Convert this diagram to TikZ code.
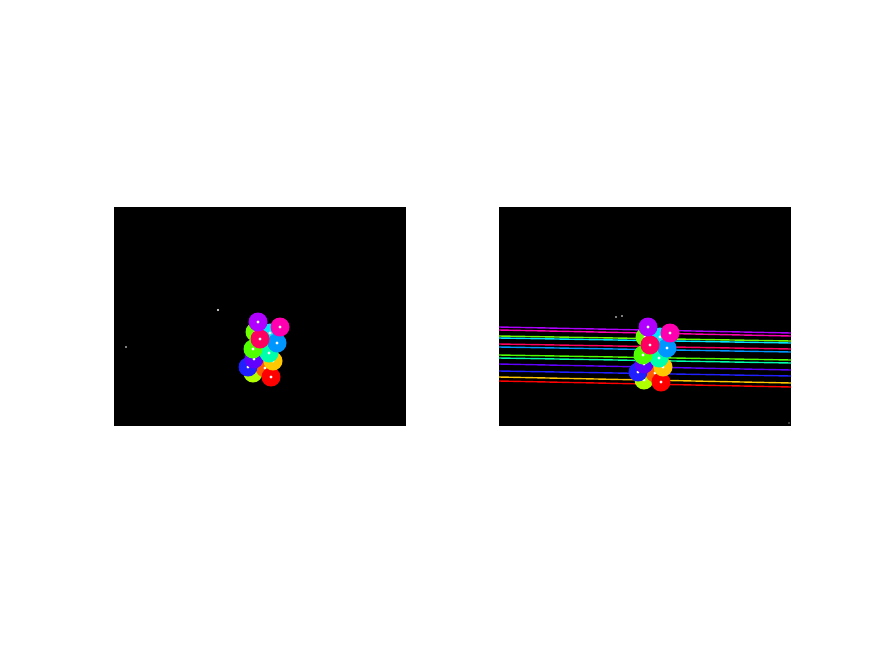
\documentclass[tikz,border=0pt]{standalone}
\usepackage{tikz}

\definecolor{cpurple}{RGB}{176,0,255}
\definecolor{cmagenta}{RGB}{255,0,176}
\definecolor{ccrimson}{RGB}{255,0,96}
\definecolor{csky}{RGB}{0,150,255}
\definecolor{ccyan}{RGB}{0,230,255}
\definecolor{clime}{RGB}{110,255,0}
\definecolor{cgreen}{RGB}{80,255,0}
\definecolor{cteal}{RGB}{0,255,170}
\definecolor{cyellow}{RGB}{255,200,0}
\definecolor{cviolet}{RGB}{96,0,255}
\definecolor{cblue}{RGB}{32,32,255}
\definecolor{cyelgreen}{RGB}{176,255,0}
\definecolor{corange}{RGB}{255,96,0}
\definecolor{cred}{RGB}{255,0,0}

\begin{document}
\begin{tikzpicture}[x=0.02cm,y=-0.02cm]
\useasboundingbox[fill=white] (0,0) rectangle (875,656);

% left image
\fill[black] (114,207) rectangle (406,426);
\fill[white] (218,310) circle (1.1);
\fill[white] (126,347) circle (0.8);

\fill[cyelgreen] (253,373) circle (9.5); \fill[white] (253,373) circle (1.6);
\fill[corange] (265,368) circle (9.5); \fill[white] (265,368) circle (1.6);
\fill[cred] (271,377) circle (9.5); \fill[white] (271,377) circle (1.6);
\fill[cblue] (248,367) circle (9.5); \fill[white] (248,367) circle (1.6);
\fill[cyellow] (273,361) circle (9.5); \fill[white] (273,361) circle (1.6);
\fill[cviolet] (254,359) circle (9.5); \fill[white] (254,359) circle (1.6);
\fill[cteal] (269,353) circle (9.5); \fill[white] (269,353) circle (1.6);
\fill[cgreen] (253,349) circle (9.5); \fill[white] (253,349) circle (1.6);
\fill[clime] (255,332) circle (9.5); \fill[white] (255,332) circle (1.6);
\fill[ccyan] (270,333) circle (9.5); \fill[white] (270,333) circle (1.6);
\fill[csky] (277,343) circle (9.5); \fill[white] (277,343) circle (1.6);
\fill[ccrimson] (260,339) circle (9.5); \fill[white] (260,339) circle (1.6);
\fill[cmagenta] (280,327) circle (9.5); \fill[white] (280,327) circle (1.6);
\fill[cpurple] (258,322) circle (9.5); \fill[white] (258,322) circle (1.6);

% right image with lines
\fill[black] (499,207) rectangle (791,426);
\fill[white] (616,317) circle (0.8);
\fill[white] (622,316) circle (0.8);
\fill[gray] (789,423) circle (0.9);

\draw[cpurple,line width=0.8pt] (499,327) -- (791,333);
\draw[cmagenta,line width=0.8pt] (499,330) -- (791,336);
\draw[clime,line width=0.8pt] (499,336) -- (791,341);
\draw[ccyan,line width=0.8pt] (499,338) -- (791,343);
\draw[ccrimson,line width=0.8pt] (499,344) -- (791,349);
\draw[csky,line width=0.8pt] (499,347) -- (791,352);
\draw[cgreen,line width=0.8pt] (499,355) -- (791,360);
\draw[cteal,line width=0.8pt] (499,358) -- (791,363);
\draw[cviolet,line width=0.8pt] (499,364) -- (791,370);
\draw[cblue,line width=0.8pt] (499,371) -- (791,376);
\draw[cyellow,line width=0.8pt] (499,377) -- (791,383);
\draw[cred,line width=0.8pt] (499,381) -- (791,387);

\fill[cyelgreen] (644,380) circle (9.5); \fill[white] (644,380) circle (1.6);
\fill[corange] (655,373) circle (9.5); \fill[white] (655,373) circle (1.6);
\fill[cred] (661,382) circle (9.5); \fill[white] (661,382) circle (1.6);
\fill[cblue] (638,372) circle (9.5); \fill[white] (638,372) circle (1.6);
\fill[cyellow] (663,367) circle (9.5); \fill[white] (663,367) circle (1.6);
\fill[cviolet] (644,364) circle (9.5); \fill[white] (644,364) circle (1.6);
\fill[cteal] (659,358) circle (9.5); \fill[white] (659,358) circle (1.6);
\fill[cgreen] (643,355) circle (9.5); \fill[white] (643,355) circle (1.6);
\fill[clime] (645,337) circle (9.5); \fill[white] (645,337) circle (1.6);
\fill[ccyan] (660,337) circle (9.5); \fill[white] (660,337) circle (1.6);
\fill[csky] (667,348) circle (9.5); \fill[white] (667,348) circle (1.6);
\fill[ccrimson] (650,345) circle (9.5); \fill[white] (650,345) circle (1.6);
\fill[cmagenta] (670,333) circle (9.5); \fill[white] (670,333) circle (1.6);
\fill[cpurple] (648,327) circle (9.5); \fill[white] (648,327) circle (1.6);

\end{tikzpicture}
\end{document}
